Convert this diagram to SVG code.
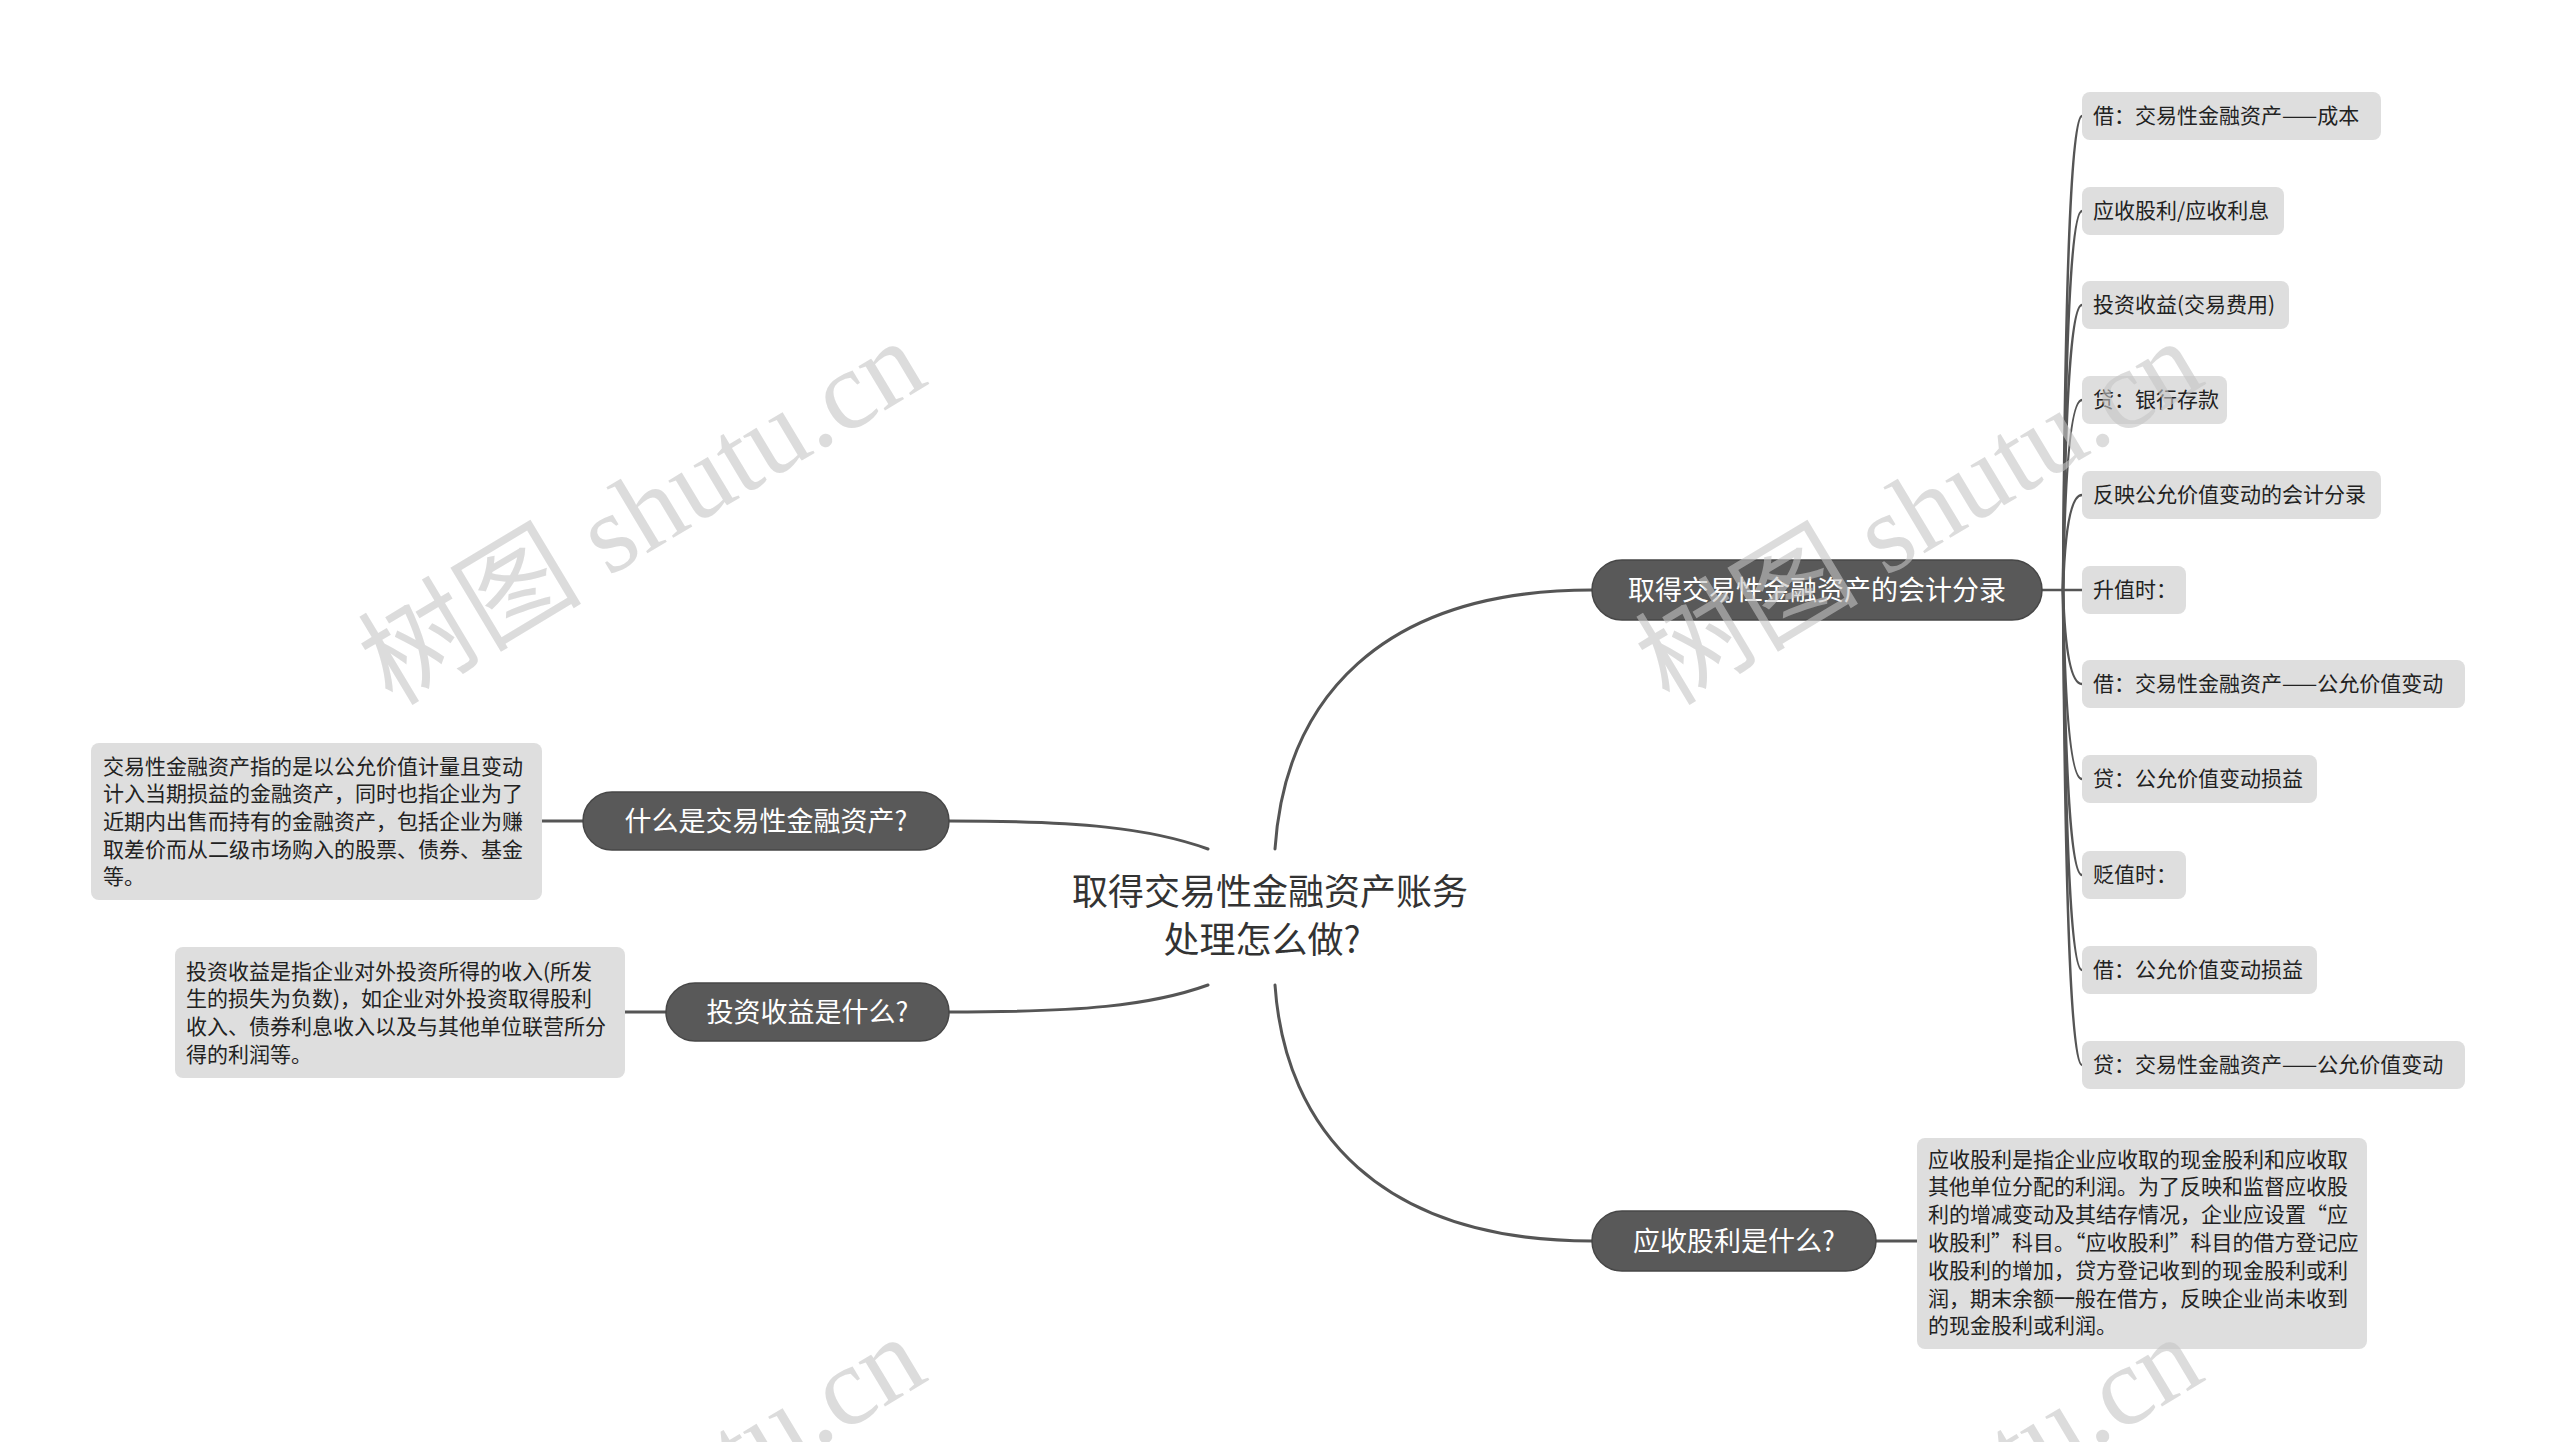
<svg xmlns="http://www.w3.org/2000/svg" width="2560" height="1442" viewBox="0 0 2560 1442">
<style>
.bg{fill:#ffffff}
.conn{fill:none;stroke:#555555;stroke-width:3;stroke-linecap:round}
.leafc{fill:none;stroke:#555555;stroke-width:2.5;stroke-linecap:round}
.branch{fill:#595959;stroke:#474747;stroke-width:1.5}
.btxt{font-family:"Noto Sans CJK SC","Noto Sans",sans-serif;font-size:27px;fill:#ffffff;text-anchor:middle}
.leaf{fill:#dedede}
.ltxt{font-family:"Noto Sans CJK SC","Noto Sans",sans-serif;font-size:21px;fill:#222222}
.ctxt{font-family:"Noto Sans CJK SC","Noto Sans",sans-serif;font-size:36px;fill:#333333;text-anchor:middle}
.wm{font-family:"Liberation Serif","Noto Sans CJK SC",serif;font-size:112px;fill:#c4c4c4;fill-opacity:0.6;text-anchor:middle}
</style>
<rect class="bg" x="0" y="0" width="2560" height="1442"/>

<g id="connectors">
  <path class="conn" d="M1275 849 C1285 700 1380 590 1592 590"/>
  <path class="conn" d="M1275 985 C1285 1130 1380 1241 1592 1241"/>
  <path class="conn" d="M949 821 C1080 821 1150 828 1208 849"/>
  <path class="conn" d="M949 1012 C1080 1012 1150 1006 1208 985"/>
  <path class="conn" d="M542 821 H583"/>
  <path class="conn" d="M625 1012 H666"/>
  <path class="conn" d="M1876 1241 H1917"/>
  <path class="leafc" d="M2042 590 H2082"/>
  <path class="leafc" d="M2063 590 Q2066 116 2082 116"/>
  <path class="leafc" d="M2063 590 Q2066 211 2082 211"/>
  <path class="leafc" d="M2063 590 Q2066 305 2082 305"/>
  <path class="leafc" d="M2063 590 Q2066 400 2082 400"/>
  <path class="leafc" d="M2063 590 Q2066 495 2082 495"/>
  <path class="leafc" d="M2063 590 Q2066 684 2082 684"/>
  <path class="leafc" d="M2063 590 Q2066 779 2082 779"/>
  <path class="leafc" d="M2063 590 Q2066 875 2082 875"/>
  <path class="leafc" d="M2063 590 Q2066 970 2082 970"/>
  <path class="leafc" d="M2063 590 Q2066 1065 2082 1065"/>
</g>

<g id="center">
  <text class="ctxt" x="1270" y="905">取得交易性金融资产账务</text>
  <text class="ctxt" x="1262" y="953">处理怎么做?</text>
</g>

<g id="branch-entries">
  <rect class="branch" x="1592" y="560" width="450" height="60" rx="30"/>
  <text class="btxt" x="1817" y="599.5">取得交易性金融资产的会计分录</text>
</g>
<g id="branch-receivable">
  <rect class="branch" x="1592" y="1211" width="284" height="60" rx="30"/>
  <text class="btxt" x="1734" y="1250.5">应收股利是什么?</text>
</g>
<g id="branch-what">
  <rect class="branch" x="583" y="792" width="366" height="58" rx="29"/>
  <text class="btxt" x="766" y="830.5">什么是交易性金融资产?</text>
</g>
<g id="branch-income">
  <rect class="branch" x="666" y="983" width="283" height="58" rx="29"/>
  <text class="btxt" x="807.5" y="1021.5">投资收益是什么?</text>
</g>

<g id="desc-what">
  <rect class="leaf" x="91" y="743" width="451" height="157" rx="8"/>
  <text class="ltxt" x="103" y="773.5">交易性金融资产指的是以公允价值计量且变动</text>
  <text class="ltxt" x="103" y="801.2">计入当期损益的金融资产，同时也指企业为了</text>
  <text class="ltxt" x="103" y="828.9">近期内出售而持有的金融资产，包括企业为赚</text>
  <text class="ltxt" x="103" y="856.6">取差价而从二级市场购入的股票、债券、基金</text>
  <text class="ltxt" x="103" y="884.3">等。</text>
</g>
<g id="desc-income">
  <rect class="leaf" x="175" y="947" width="450" height="131" rx="8"/>
  <text class="ltxt" x="186" y="978.5">投资收益是指企业对外投资所得的收入(所发</text>
  <text class="ltxt" x="186" y="1006.2">生的损失为负数)，如企业对外投资取得股利</text>
  <text class="ltxt" x="186" y="1033.9">收入、债券利息收入以及与其他单位联营所分</text>
  <text class="ltxt" x="186" y="1061.6">得的利润等。</text>
</g>
<g id="desc-receivable">
  <rect class="leaf" x="1917" y="1138" width="450" height="211" rx="8"/>
  <text class="ltxt" x="1928" y="1166.5">应收股利是指企业应收取的现金股利和应收取</text>
  <text class="ltxt" x="1928" y="1194.3">其他单位分配的利润。为了反映和监督应收股</text>
  <text class="ltxt" x="1928" y="1222.1">利的增减变动及其结存情况，企业应设置“应</text>
  <text class="ltxt" x="1928" y="1249.9">收股利”科目。“应收股利”科目的借方登记应</text>
  <text class="ltxt" x="1928" y="1277.7">收股利的增加，贷方登记收到的现金股利或利</text>
  <text class="ltxt" x="1928" y="1305.5">润，期末余额一般在借方，反映企业尚未收到</text>
  <text class="ltxt" x="1928" y="1333.3">的现金股利或利润。</text>
</g>

<g id="leaf-1"><rect class="leaf" x="2082" y="92" width="299" height="48" rx="8"/><text class="ltxt" x="2093" y="123.4">借：交易性金融资产——成本</text></g>
<g id="leaf-2"><rect class="leaf" x="2082" y="187" width="202" height="48" rx="8"/><text class="ltxt" x="2093" y="218.4">应收股利/应收利息</text></g>
<g id="leaf-3"><rect class="leaf" x="2082" y="281" width="207" height="48" rx="8"/><text class="ltxt" x="2093" y="312.4">投资收益(交易费用)</text></g>
<g id="leaf-4"><rect class="leaf" x="2082" y="376" width="145" height="48" rx="8"/><text class="ltxt" x="2093" y="407.4">贷：银行存款</text></g>
<g id="leaf-5"><rect class="leaf" x="2082" y="471" width="299" height="48" rx="8"/><text class="ltxt" x="2093" y="502.4">反映公允价值变动的会计分录</text></g>
<g id="leaf-6"><rect class="leaf" x="2082" y="566" width="104" height="48" rx="8"/><text class="ltxt" x="2093" y="597.4">升值时：</text></g>
<g id="leaf-7"><rect class="leaf" x="2082" y="660" width="383" height="48" rx="8"/><text class="ltxt" x="2093" y="691.4">借：交易性金融资产——公允价值变动</text></g>
<g id="leaf-8"><rect class="leaf" x="2082" y="755" width="235" height="48" rx="8"/><text class="ltxt" x="2093" y="786.4">贷：公允价值变动损益</text></g>
<g id="leaf-9"><rect class="leaf" x="2082" y="851" width="104" height="48" rx="8"/><text class="ltxt" x="2093" y="882.4">贬值时：</text></g>
<g id="leaf-10"><rect class="leaf" x="2082" y="946" width="235" height="48" rx="8"/><text class="ltxt" x="2093" y="977.4">借：公允价值变动损益</text></g>
<g id="leaf-11"><rect class="leaf" x="2082" y="1041" width="383" height="48" rx="8"/><text class="ltxt" x="2093" y="1072.4">贷：交易性金融资产——公允价值变动</text></g>

<g id="watermarks">
  <text class="wm" transform="translate(643 514) rotate(-31)" x="0" y="36">树图 shutu.cn</text>
  <text class="wm" transform="translate(1920 514) rotate(-31)" x="0" y="36">树图 shutu.cn</text>
  <text class="wm" transform="translate(643 1510) rotate(-31)" x="0" y="36">树图 shutu.cn</text>
  <text class="wm" transform="translate(1920 1510) rotate(-31)" x="0" y="36">树图 shutu.cn</text>
</g>
</svg>
